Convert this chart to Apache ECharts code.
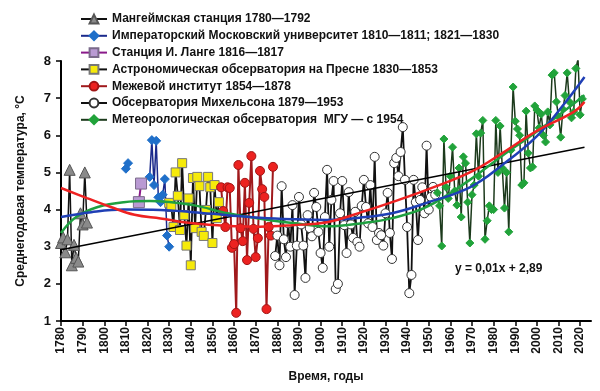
<!DOCTYPE html>
<html><head><meta charset="utf-8">
<script src="https://cdn.jsdelivr.net/npm/echarts@6/dist/echarts.min.js"></script>
<style>html,body{margin:0;padding:0;background:#fff}#c{width:600px;height:391px}</style>
</head><body><div id="c"></div><script>
// ---- data ----
const tickYears = [1780,1790,1800,1810,1820,1830,1840,1850,1860,1870,1880,1890,1900,1910,1920,1930,1940,1950,1960,1970,1980,1990,2000,2010,2020];
const seriesNames = [
  'Мангеймская станция 1780—1792',
  'Императорский Московский университет 1810—1811; 1821—1830',
  'Станция И. Ланге 1816—1817',
  'Астрономическая обсерватория на Пресне 1830—1853',
  'Межевой институт 1854—1878',
  'Обсерватория Михельсона 1879—1953',
  'Метеорологическая обсерватория  МГУ — с 1954'
];
const mannheimStart = 1780;
const mannheimTemps = [3.1,3.25,2.85,3.2,5.07,2.5,3.05,2.7,2.6,3.9,3.6,5.0,3.65];
const univYears = [1810,1811,1812,1821,1822,1823,1824,1825,1826,1827,1828,1829,1830];
const univTemps = [5.1,5.25,null,4.88,5.87,4.66,5.85,4.33,4.2,4.4,4.82,3.3,3.0];
const langeYears = [1816,1817];
const langeTemps = [4.2,4.7];
const presnyaStart = 1830;
const presnyaTemps = [4.18,4.07,3.53,5.0,4.37,3.45,5.25,3.85,3.03,4.3,2.5,4.85,3.5,4.88,4.63,3.4,3.29,3.99,4.88,4.6,3.1,4.66,3.77,4.2];
const mezhevoyStart = 1854;
const mezhevoyTemps = [4.6,3.96,3.53,4.6,4.58,2.97,3.07,1.22,5.2,3.5,3.15,4.72,2.64,4.18,5.44,3.48,2.72,3.23,5.04,4.55,4.34,1.32,3.53,3.3,5.15];
const michelsonStart = 1879;
const michelsonTemps = [2.75,3.3,2.5,4.63,3.2,2.72,3.63,3.0,4.12,1.7,3.03,4.34,3.6,3.03,2.16,3.85,3.5,3.28,4.45,4.07,3.4,2.83,2.43,3.8,5.07,3.0,4.26,4.77,1.86,2.0,3.9,4.77,3.58,2.83,4.47,3.6,3.24,3.94,3.13,3.0,4.1,4.8,4.07,3.63,4.66,3.53,5.42,3.18,3.37,3.31,3.03,3.9,4.45,3.37,2.67,5.25,5.39,4.9,5.55,6.22,4.8,3.53,1.75,2.24,4.8,4.2,3.18,4.26,4.6,3.9,5.72,4.0,4.34,4.61,4.4];
const mguStart = 1954;
const mguTemps = [4.45,4.1,3.02,5.9,4.6,4.3,4.9,5.68,4.5,4.12,5.12,3.8,5.42,5.25,4.2,3.1,4.4,4.66,6.04,4.9,6.06,6.4,3.2,3.7,4.1,4.0,4.0,6.4,5.0,6.25,5.12,4.04,5.0,3.4,5.6,7.3,6.38,6.17,6.0,4.66,4.72,6.65,5.52,5.12,5.15,6.79,6.68,6.2,6.57,6.0,5.82,6.63,6.28,7.62,7.68,6.9,6.5,5.95,6.7,7.07,7.68,6.9,6.47,6.63,7.8,8.05,6.55,6.98];
const trendYears = [1780,2022];
const trendTemps = [2.92,5.68];
const redYears = [1780,1792,1803,1814,1826,1841,1857,1872,1887,1903,1920,1933,1949,1969,1984,2000,2017,2022];
const redTemps = [4.58,4.31,4.07,3.86,3.76,3.63,3.56,3.54,3.58,3.66,3.95,4.2,4.53,5.0,5.52,6.12,6.63,6.9];
const blueYears = [1780,1794,1809,1826,1841,1857,1872,1887,1903,1918,1933,1949,1969,1984,2000,2012,2022];
const blueTemps = [3.8,3.93,4.0,3.99,3.93,3.85,3.78,3.74,3.72,3.78,3.9,4.18,4.6,5.2,5.98,6.8,7.57];
const greenYears = [1780,1787,1797,1809,1821,1841,1857,1876,1887,1903,1920,1933,1949,1969,1984,2000,2022];
const greenTemps = [3.37,3.8,4.07,4.2,4.23,4.12,3.9,3.72,3.64,3.55,3.64,3.77,4.07,4.8,5.45,6.1,7.08];

// ---- build ----
const seq = (start, vals) => vals.map((v,i)=>[start+i, v]);
const zip = (xs, ys) => xs.map((x,i)=>[x, ys[i]==null ? '-' : ys[i]]);
const FONT = '"Liberation Sans", Arial, sans-serif';

function dataSeries(name, data, symbol, size, fill, border, lineColor, lw) {
  return {
    name, type:'line', data, symbol, symbolSize:size, z:3,
    itemStyle:{color:fill, borderColor:border, borderWidth:1},
    lineStyle:{color:lineColor, width:lw},
    emphasis:{disabled:true}, animation:false
  };
}
function curve(data, color, w) {
  return {type:'line', data, smooth:0.4, symbol:'none', z:5, silent:true,
    lineStyle:{color, width:w}, animation:false};
}

const chart = echarts.init(document.getElementById('c'), null, {renderer:'canvas'});
chart.setOption({
  backgroundColor:'#fff',
  animation:false,
  grid:{left:61, right:9, top:61, bottom:70},
  legend:{
    data:seriesNames, orient:'vertical', left:75, top:8,
    itemWidth:26, itemHeight:11, itemGap:4.8,
    textStyle:{fontFamily:FONT, fontWeight:'bold', fontSize:12, color:'#111', lineHeight:12},
    selectedMode:false
  },
  xAxis:{
    type:'value', min:1780, max:2025,
    axisLine:{lineStyle:{color:'#000', width:2}},
    axisTick:{show:true, customValues:tickYears, length:5, lineStyle:{color:'#000', width:1.5}},
    axisLabel:{customValues:tickYears, rotate:90, fontFamily:FONT, fontWeight:'bold', fontSize:12, color:'#111', margin:6,
      formatter:(v)=>String(v)},
    splitLine:{show:false},
    name:'Время, годы', nameLocation:'middle', nameGap:50,
    nameTextStyle:{fontFamily:FONT, fontWeight:'bold', fontSize:12, color:'#111'}
  },
  yAxis:{
    type:'value', min:1, max:8, interval:1,
    axisLine:{show:true, lineStyle:{color:'#000', width:2}},
    axisTick:{show:true, length:5, lineStyle:{color:'#000', width:1.5}},
    axisLabel:{fontFamily:FONT, fontWeight:'bold', fontSize:13, color:'#111', margin:10},
    splitLine:{show:false},
    name:'Среднегодовая температура, °С', nameLocation:'middle', nameGap:34,
    nameTextStyle:{fontFamily:FONT, fontWeight:'bold', fontSize:12, color:'#111'}
  },
  graphic:[{type:'text', left:455, top:263, style:{text:'y = 0,01x + 2,89', font:'bold 12px "Liberation Sans", Arial, sans-serif', fill:'#111'}}],
  series:[
    dataSeries(seriesNames[0], seq(mannheimStart, mannheimTemps), 'triangle', 11, '#8a8a8a', '#555', '#111', 1.5),
    dataSeries(seriesNames[1], zip(univYears, univTemps), 'diamond', 9, '#1f6fc9', '#1f6fc9', '#1b2a8c', 1.5),
    dataSeries(seriesNames[2], zip(langeYears, langeTemps), 'rect', 11, '#b99ad3', '#7a6a8a', '#8a1a8a', 2),
    dataSeries(seriesNames[3], seq(presnyaStart, presnyaTemps), 'rect', 9, '#f6ea0a', '#777', '#111', 1.8),
    dataSeries(seriesNames[4], seq(mezhevoyStart, mezhevoyTemps), 'circle', 9, '#ec2220', '#a01515', '#a0191c', 2),
    dataSeries(seriesNames[5], seq(michelsonStart, michelsonTemps), 'circle', 9, '#fff', '#333', '#111', 1.8),
    dataSeries(seriesNames[6], seq(mguStart, mguTemps), 'diamond', 8, '#21a33a', '#21a33a', '#1c3a1c', 1.5),
    curve(zip(trendYears, trendTemps), '#000', 1.5),
    curve(zip(greenYears, greenTemps), '#1fa040', 2.5),
    curve(zip(blueYears, blueTemps), '#1f3fb5', 2.5),
    curve(zip(redYears, redTemps), '#ee2222', 2.5)
  ]
});
</script></body></html>
